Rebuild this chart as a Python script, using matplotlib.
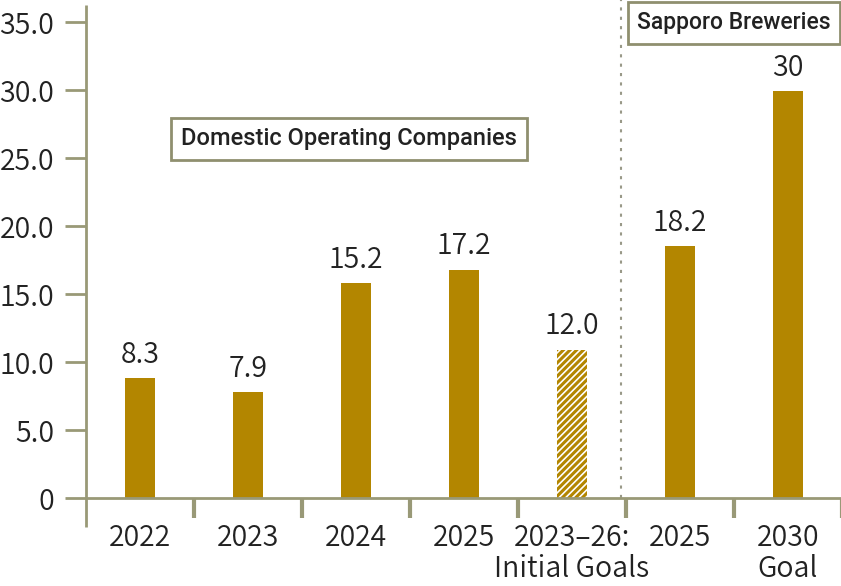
import numpy as np
import matplotlib
matplotlib.use("Agg")
import matplotlib.pyplot as plt

plt.rcParams['font.family'] = ['Noto Sans CJK JP', 'DejaVu Sans']
plt.rcParams['font.weight'] = 350
plt.rcParams['hatch.color'] = '#b38600'
plt.rcParams['hatch.linewidth'] = 2.2

# data
categories = ["2022", "2023", "2024", "2025", "2023\u201326:\nInitial Goals", "2025", "2030\nGoal"]
bar_heights = [8.8, 7.8, 15.8, 16.8, 10.9, 18.5, 29.9]
value_labels = ["8.3", "7.9", "15.2", "17.2", "12.0", "18.2", "30"]
hatched = [False, False, False, False, True, False, False]
yticks = [0, 5, 10, 15, 20, 25, 30, 35]
ytick_labels = ["0", "5.0", "10.0", "15.0", "20.0", "25.0", "30.0", "35.0"]

gold = '#b38600'
axis_col = '#999977'
text_col = '#222222'
fs = 20.5

W, H = 841, 586
fig = plt.figure(figsize=(W / 100, H / 100), dpi=100)
ax = fig.add_axes([86 / W, (H - 498) / H, 756 / W, 476 / H])

x = np.arange(len(categories))
for xi, h, hat in zip(x, bar_heights, hatched):
    if hat:
        ax.bar(xi, h, width=0.28, color='white', edgecolor=gold, hatch='/////', linewidth=0)
    else:
        ax.bar(xi, h, width=0.28, color=gold, linewidth=0)

for xi, h, lab in zip(x, bar_heights, value_labels):
    ax.annotate(lab, (xi, h), xytext=(0, 6), textcoords='offset points',
                ha='center', va='bottom', fontsize=fs, color=text_col)

ax.set_xlim(-0.5, 6.5)
ax.set_ylim(0, 35)

for s in ['top', 'right', 'left']:
    ax.spines[s].set_visible(False)
ax.spines['bottom'].set_color(axis_col)
ax.spines['bottom'].set_linewidth(2)

# left axis line running past the plot area
ax.plot([0, 0], [-0.061, 1.036], transform=ax.transAxes, color=axis_col,
        lw=2, clip_on=False, solid_capstyle='butt')

ax.set_yticks(yticks)
ax.set_yticklabels(ytick_labels)
ax.tick_params(axis='y', length=15, width=2, color=axis_col, pad=8,
               labelsize=fs, labelcolor=text_col)

ax.set_xticks(x)
ax.set_xticklabels(categories, linespacing=1.05)
ax.set_xticks(np.arange(0.5, 7, 1), minor=True)
ax.tick_params(axis='x', which='major', length=0, pad=18, labelsize=fs, labelcolor=text_col)
ax.tick_params(axis='x', which='minor', length=14.5, width=3, color=axis_col)

# separator between groups
ax.axvline(4.455, ymin=0, ymax=1.046, color='#999988', lw=1.5,
           linestyle=(0, (1.5, 3)), clip_on=False)

box = dict(boxstyle='square,pad=0.42', facecolor='white', edgecolor='#8f8f6f', linewidth=2)
fig.text(349 / W, 1 - 139 / H, "Domestic Operating Companies", family='Roboto',
         weight='medium', fontsize=17, color=text_col, ha='center', va='center', bbox=box)
fig.text(734 / W, 1 - 23 / H, "Sapporo Breweries", family='Roboto',
         weight='medium', fontsize=16.5, color=text_col, ha='center', va='center', bbox=box)

fig.savefig('out.png', dpi=100)
